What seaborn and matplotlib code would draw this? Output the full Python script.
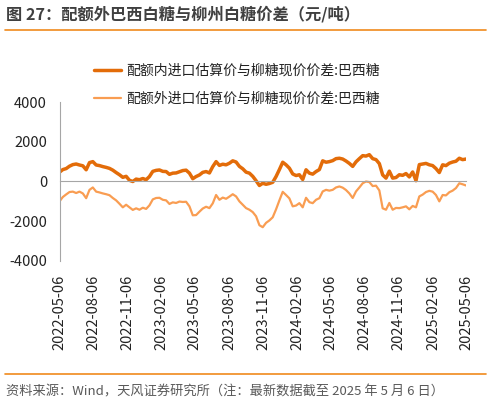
import pandas as pd
import numpy as np
import seaborn as sns
import matplotlib.pyplot as plt
import matplotlib.dates as mdates
from matplotlib.lines import Line2D

# 数据（从原图读取，约每9天一个点）
start_date = "2022-05-06"
end_date = "2025-05-06"
n_points = 123

inner_diff = [
    470, 600, 650, 770, 850, 880, 830, 790, 590, 950, 1000, 830, 800, 750, 710, 660, 570, 450, 340, 210, 260,
    60, 0, 120, 90, 150, 90, 250, 510, 560, 580, 510, 500, 360, 420, 430, 490, 550, 570, 420, 140,
    250, 330, 460, 500, 430, 750, 1000, 810, 870, 840, 920, 1040, 980, 760, 640, 470, 420, 260, 40, -200, -90,
    -140, -100, -40, 250, 600, 970, 840, 670, 380, 300, 340, 100, 590, 420, 370, 500, 600, 1040, 970, 1000,
    1050, 1150, 1170, 1130, 1030, 910, 760, 990, 1150, 1300, 1280, 1350, 1150, 1100, 900, 330, 170, 520, 170, 200,
    340, 310, 400, 230, 480, 40, 850, 880, 910, 840, 800, 650, 450, 840, 800, 920, 980, 1020, 1170, 1100, 1130,
]
outer_diff = [
    -1000, -780, -650, -530, -510, -580, -510, -600, -840, -420, -300, -510, -550, -600, -640, -690, -830, -950, -1120, -1300, -1170,
    -1300, -1430, -1350, -1420, -1320, -1380, -1200, -900, -830, -820, -920, -950, -1130, -1050, -1080, -1010, -1030, -1020, -1250, -1700,
    -1690, -1520, -1360, -1270, -1340, -1100, -680, -920, -810, -870, -760, -640, -750, -1000, -1170, -1340, -1420, -1540, -1750, -2200, -2300,
    -2080, -1960, -1800, -1400, -950, -520, -680, -850, -1250, -1210, -1090, -1300, -820, -1040, -1090, -920, -840, -500, -420, -460,
    -420, -300, -250, -310, -430, -600, -830, -500, -300, -90, 0, -30, -230, -210, -450, -1350, -1420, -1080, -1420, -1330,
    -1340, -1300, -1250, -1400, -1230, -1300, -750, -660, -530, -470, -510, -680, -1000, -680, -700, -540, -460, -330, -90, -140, -200,
]
tick_dates = ["2022-05-06", "2022-08-06", "2022-11-06", "2023-02-06", "2023-05-06",
              "2023-08-06", "2023-11-06", "2024-02-06", "2024-05-06", "2024-08-06",
              "2024-11-06", "2025-02-06", "2025-05-06"]
y_ticks = [-4000, -2000, 0, 2000, 4000]

name_inner = "配额内进口估算价与柳糖现价价差:巴西糖"
name_outer = "配额外进口估算价与柳糖现价价差:巴西糖"

dates = pd.date_range(start_date, end_date, periods=n_points)
df = pd.DataFrame({"date": dates, name_inner: inner_diff, name_outer: outer_diff})

sns.set_style("white")
plt.rcParams["font.family"] = ["Noto Sans CJK SC", "DejaVu Sans"]

fig = plt.figure(figsize=(4.91, 4.04), dpi=100)
ax = fig.add_axes([0.1212, 0.354, 0.8278, 0.3935])

sns.lineplot(data=df, x="date", y=name_inner, ax=ax, color="#E36C09", linewidth=2.5, label=name_inner)
sns.lineplot(data=df, x="date", y=name_outer, ax=ax, color="#F99D52", linewidth=1.6, label=name_outer)

ax.set_xlim(pd.Timestamp(start_date), pd.Timestamp(end_date))
ax.set_ylim(-4000, 4000)
ax.set_yticks(y_ticks)
ax.set_yticklabels([str(v) for v in y_ticks], fontsize=10.5, color="#222222")
ax.set_xlabel("")
ax.set_ylabel("")

for s in ["top", "right"]:
    ax.spines[s].set_visible(False)
ax.spines["left"].set_color("#A6A6A6")
ax.spines["bottom"].set_color("#A6A6A6")
ax.spines["bottom"].set_position(("data", 0))
ax.tick_params(axis="y", direction="out", length=3, color="#A6A6A6", pad=6)

tick_ts = pd.to_datetime(tick_dates)
ax.set_xticks(tick_ts)
ax.tick_params(axis="x", direction="out", length=4, color="#A6A6A6", labelbottom=False)

sec = ax.secondary_xaxis(0.0)
sec.set_xticks(tick_ts)
sec.set_xticklabels(tick_dates, rotation=90, fontsize=10.5, color="#222222")
sec.tick_params(length=0, pad=10)
sec.spines["bottom"].set_visible(False)

ax.legend(loc="upper left", bbox_to_anchor=(0.192, 0.842), bbox_transform=fig.transFigure,
          frameon=False, fontsize=10, handlelength=1.95, handletextpad=0.35,
          labelspacing=0.98, borderpad=0, borderaxespad=0, labelcolor="#222222")

fig.text(0.012, 0.965, "图 27：配额外巴西白糖与柳州白糖价差（元/吨）", fontsize=11.7,
         fontweight="bold", color="#404040", va="center", ha="left")
fig.add_artist(Line2D([0.01, 0.99], [0.925, 0.925], transform=fig.transFigure,
                      color="#F08A1C", linewidth=1.2))
fig.add_artist(Line2D([0.01, 0.99], [0.075, 0.075], transform=fig.transFigure,
                      color="#F08A1C", linewidth=1.2))
fig.text(0.012, 0.031, "资料来源：Wind，天风证券研究所（注：最新数据截至 2025 年 5 月 6 日）",
         fontsize=9.5, color="#595959", va="center", ha="left")

plt.savefig("out.png", dpi=100)
